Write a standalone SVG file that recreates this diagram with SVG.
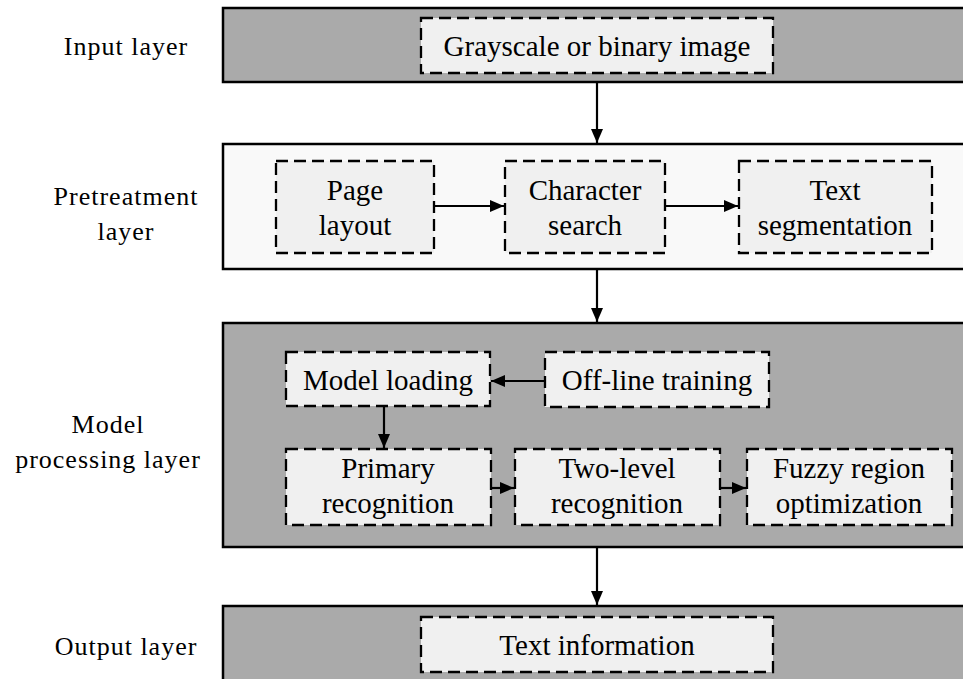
<svg xmlns="http://www.w3.org/2000/svg" width="963" height="679" viewBox="0 0 963 679">
  <style>
    .band { fill: #aaaaaa; stroke: #000; stroke-width: 2.5; }
    .band.light { fill: #f9f9f9; }
    .box { fill: #f0f0f0; stroke: #000; stroke-width: 2.3; stroke-dasharray: 12 6; }
    .t { font-family: "Liberation Serif", "Times New Roman", serif; font-size: 29px; fill: #000; text-anchor: middle; }
    .lbl { font-family: "Liberation Serif", "Times New Roman", serif; font-size: 26px; letter-spacing: 1px; fill: #000; text-anchor: middle; }
    .conn { fill: none; stroke: #000; stroke-width: 2.2; }
  </style>
  <defs>
    <marker id="arrow" viewBox="0 0 14 12" refX="14" refY="6" markerWidth="14" markerHeight="12" markerUnits="userSpaceOnUse" orient="auto">
      <path d="M0,0 L14,6 L0,12 Z" fill="#000"/>
    </marker>
  </defs>
  <rect width="963" height="679" fill="#fff"/>

  <!-- layer labels -->
  <g id="labels">
    <text class="lbl" x="126" y="55">Input layer</text>
    <text class="lbl" x="126" y="205">Pretreatment</text>
    <text class="lbl" x="126" y="240">layer</text>
    <text class="lbl" x="108" y="433">Model</text>
    <text class="lbl" x="108" y="468">processing layer</text>
    <text class="lbl" x="126" y="655">Output layer</text>
  </g>

  <!-- layer bands -->
  <g id="input-layer"><rect class="band" x="223" y="8" width="760" height="74"/></g>
  <g id="pretreatment-layer"><rect class="band light" x="223" y="144" width="760" height="125"/></g>
  <g id="model-layer"><rect class="band" x="223" y="323" width="760" height="224"/></g>
  <g id="output-layer"><rect class="band" x="223" y="606" width="760" height="100"/></g>

  <!-- nodes -->
  <g id="grayscale-image">
    <rect class="box" x="421" y="18" width="352" height="55"/>
    <text class="t" x="597" y="56">Grayscale or binary image</text>
  </g>
  <g id="page-layout">
    <rect class="box" x="276" y="161" width="158" height="92"/>
    <text class="t" x="355" y="200">Page</text>
    <text class="t" x="355" y="235">layout</text>
  </g>
  <g id="character-search">
    <rect class="box" x="505" y="161" width="160" height="92"/>
    <text class="t" x="585" y="200">Character</text>
    <text class="t" x="585" y="235">search</text>
  </g>
  <g id="text-segmentation">
    <rect class="box" x="739" y="161" width="193" height="92"/>
    <text class="t" x="835" y="200">Text</text>
    <text class="t" x="835" y="235">segmentation</text>
  </g>
  <g id="model-loading">
    <rect class="box" x="286" y="352" width="204" height="54"/>
    <text class="t" x="388" y="390">Model loading</text>
  </g>
  <g id="offline-training">
    <rect class="box" x="545" y="352" width="224" height="55"/>
    <text class="t" x="657" y="390">Off-line training</text>
  </g>
  <g id="primary-recognition">
    <rect class="box" x="286" y="449" width="205" height="76"/>
    <text class="t" x="388" y="478">Primary</text>
    <text class="t" x="388" y="513">recognition</text>
  </g>
  <g id="two-level-recognition">
    <rect class="box" x="515" y="449" width="205" height="76"/>
    <text class="t" x="617" y="478">Two-level</text>
    <text class="t" x="617" y="513">recognition</text>
  </g>
  <g id="fuzzy-region">
    <rect class="box" x="747" y="449" width="205" height="76"/>
    <text class="t" x="849" y="478">Fuzzy region</text>
    <text class="t" x="849" y="513">optimization</text>
  </g>
  <g id="text-information">
    <rect class="box" x="421" y="617" width="352" height="55"/>
    <text class="t" x="597" y="655">Text information</text>
  </g>

  <!-- connectors -->
  <g id="connectors">
    <line class="conn" x1="597" y1="83" x2="597" y2="143" marker-end="url(#arrow)"/>
    <line class="conn" x1="434" y1="206" x2="504" y2="206" marker-end="url(#arrow)"/>
    <line class="conn" x1="665" y1="206" x2="738" y2="206" marker-end="url(#arrow)"/>
    <line class="conn" x1="597" y1="270" x2="597" y2="322" marker-end="url(#arrow)"/>
    <line class="conn" x1="545" y1="381" x2="491" y2="381" marker-end="url(#arrow)"/>
    <line class="conn" x1="384" y1="406" x2="384" y2="448" marker-end="url(#arrow)"/>
    <line class="conn" x1="491" y1="488" x2="514" y2="488" marker-end="url(#arrow)"/>
    <line class="conn" x1="720" y1="488" x2="746" y2="488" marker-end="url(#arrow)"/>
    <line class="conn" x1="597" y1="548" x2="597" y2="605" marker-end="url(#arrow)"/>
  </g>
</svg>
